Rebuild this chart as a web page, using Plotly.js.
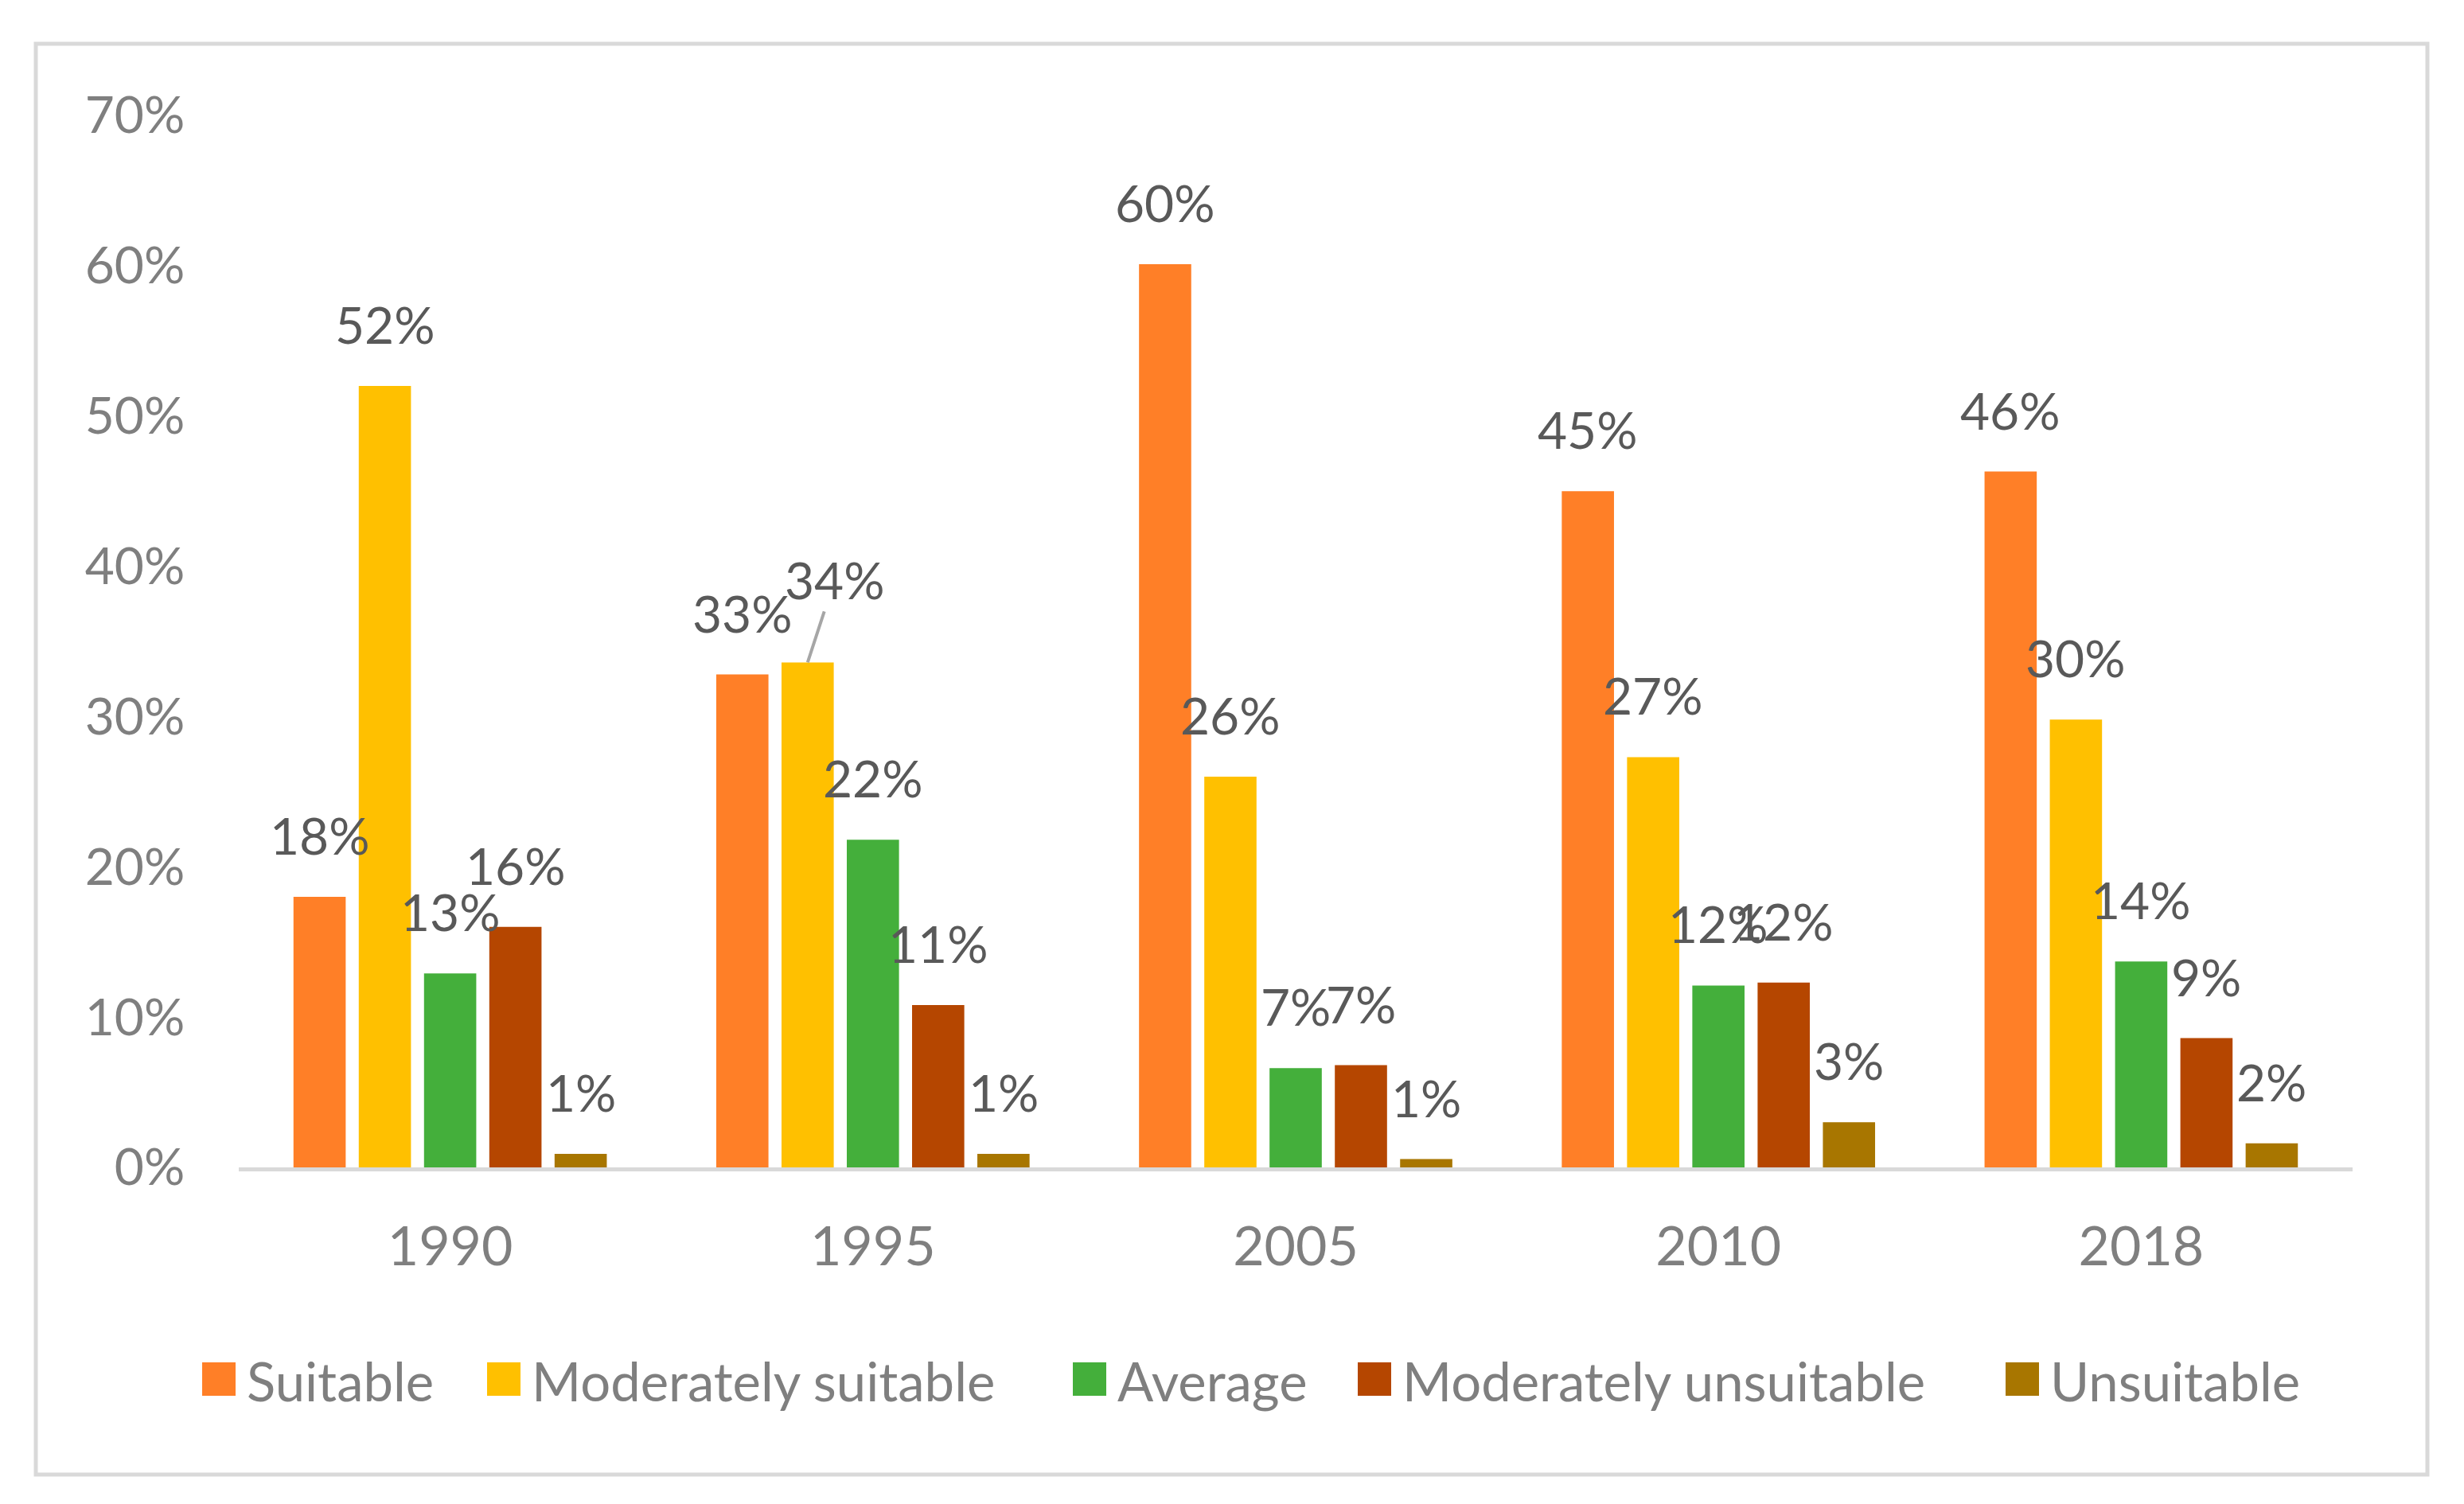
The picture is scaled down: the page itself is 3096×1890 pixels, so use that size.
<!DOCTYPE html>
<html>
<head>
<meta charset="utf-8">
<script src="https://cdn.plot.ly/plotly-3.0.1.min.js"></script>
<style>
  html, body { margin: 0; padding: 0; background: #ffffff; }
  #chart { width: 3096px; height: 1890px; }
</style>
</head>
<body>
<div id="chart"></div>
<script>
// ---- Data ----
const categories = ['1990', '1995', '2005', '2010', '2018'];
const seriesNames = ['Suitable', 'Moderately suitable', 'Average', 'Moderately unsuitable', 'Unsuitable'];
const suitable = [18.0, 32.8, 60.1, 45.0, 46.3];
const moderatelySuitable = [52.0, 33.6, 26.0, 27.3, 29.8];
const average = [12.9, 21.8, 6.6, 12.1, 13.7];
const moderatelyUnsuitable = [16.0, 10.8, 6.8, 12.3, 8.6];
const unsuitable = [0.9, 0.9, 0.55, 3.0, 1.6];
const yTickValues = [0, 10, 20, 30, 40, 50, 60, 70];

const seriesValues = [suitable, moderatelySuitable, average, moderatelyUnsuitable, unsuitable];
const colors = ['#FF7F27', '#FFC000', '#44AF3B', '#B54600', '#A87600'];

const FONT = 'Lato, "Open Sans", "Noto Sans", sans-serif';
const BARGAP = 0.228;
const nSeries = seriesValues.length;
const slot = (1 - BARGAP) / nSeries;

const W = 3096, H = 1890;
const M = { l: 300, r: 140, t: 145, b: 423 };
const PW = W - M.l - M.r, PH = H - M.t - M.b;
const px2x = px => (px - M.l) / PW;
const py2y = py => (H - M.b - py) / PH;

const traces = seriesValues.map((vals, i) => ({
  type: 'bar',
  name: seriesNames[i],
  x: categories,
  y: vals,
  marker: { color: colors[i] },
  showlegend: false,
  hoverinfo: 'skip'
}));

// Data labels placed above each bar via the axis scale
const annotations = [];
seriesValues.forEach((vals, i) => {
  vals.forEach((v, j) => {
    const base = {
      xref: 'x', yref: 'y',
      x: j + (i - (nSeries - 1) / 2) * slot,
      y: v,
      text: Math.round(v) + '%',
      font: { family: FONT, size: 64, color: '#595959' }
    };
    if (i === 1 && j === 1) {
      // the 34% label sits off to the side with a leader line
      Object.assign(base, {
        showarrow: true, arrowhead: 0, arrowwidth: 4, arrowcolor: '#A6A6A6',
        ax: 34, ay: -104, standoff: 0
      });
    } else {
      Object.assign(base, { showarrow: false, yanchor: 'bottom', yshift: 37 });
    }
    annotations.push(base);
  });
});

// Legend (square swatches + labels), laid out as in the reference
const legendSwatchLeft = [254, 612, 1348, 1706, 2520];
const legendCenterY = 1733;
const SW = 42;
const shapes = [];
seriesNames.forEach((name, i) => {
  const x0 = legendSwatchLeft[i];
  shapes.push({
    type: 'rect', xref: 'paper', yref: 'paper',
    x0: px2x(x0), x1: px2x(x0 + SW),
    y0: py2y(legendCenterY + SW / 2), y1: py2y(legendCenterY - SW / 2),
    line: { width: 0 }, fillcolor: colors[i]
  });
  annotations.push({
    xref: 'paper', yref: 'paper',
    x: px2x(x0 + SW + 12), y: py2y(legendCenterY + 2),
    xanchor: 'left', yanchor: 'middle',
    showarrow: false,
    text: name,
    font: { family: FONT, size: 67, color: '#7F7F7F' }
  });
});

// outer chart border
const border = { x0: 45, x1: 3050, y0: 55, y1: 1853 };
shapes.push({
  type: 'rect', xref: 'paper', yref: 'paper',
  x0: px2x(border.x0), x1: px2x(border.x1),
  y0: py2y(border.y1), y1: py2y(border.y0),
  line: { color: '#D9D9D9', width: 5 },
  fillcolor: 'rgba(0,0,0,0)'
});

const layout = {
  width: W, height: H,
  margin: M,
  paper_bgcolor: '#ffffff',
  plot_bgcolor: '#ffffff',
  barmode: 'group',
  bargap: BARGAP,
  bargroupgap: 0.2,
  showlegend: false,
  xaxis: {
    type: 'category',
    showline: true, linecolor: '#D9D9D9', linewidth: 5,
    showgrid: false, zeroline: false,
    ticks: 'outside', ticklen: 36, tickcolor: 'rgba(0,0,0,0)',
    tickfont: { family: FONT, size: 68, color: '#7F7F7F' },
    fixedrange: true
  },
  yaxis: {
    range: [0, 70],
    tickvals: yTickValues,
    ticktext: yTickValues.map(v => v + '%'),
    showline: false, showgrid: false, zeroline: false,
    ticks: 'outside', ticklen: 54, tickcolor: 'rgba(0,0,0,0)',
    tickfont: { family: FONT, size: 64, color: '#7F7F7F' },
    fixedrange: true
  },
  annotations: annotations,
  shapes: shapes
};

Plotly.newPlot('chart', traces, layout, { displayModeBar: false, staticPlot: true });
</script>
</body>
</html>
